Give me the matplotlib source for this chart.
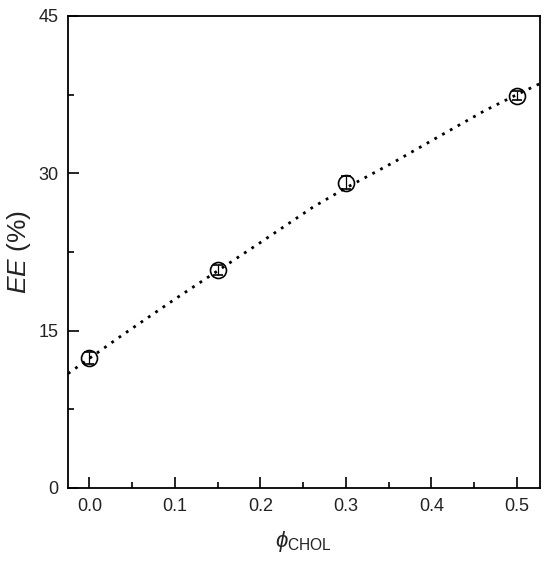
import matplotlib
matplotlib.use("Agg")
import matplotlib.pyplot as plt
from matplotlib.ticker import MultipleLocator, FormatStrFormatter

plt.rcParams['font.family'] = ['Liberation Sans', 'DejaVu Sans']
plt.rcParams['mathtext.fontset'] = 'custom'
plt.rcParams['mathtext.rm'] = 'Liberation Sans'
plt.rcParams['mathtext.it'] = 'Liberation Sans:italic'

# measured data
phi_chol = [0.0, 0.15, 0.3, 0.5]
ee = [12.4, 20.8, 29.1, 37.4]
ee_err = [0.6, 0.5, 0.6, 0.4]

# fitted curve, values
fit_x = [-0.025, 0.0, 0.039, 0.1, 0.15, 0.2, 0.262, 0.3, 0.357, 0.4, 0.463, 0.5, 0.527]
fit_y = [10.9, 12.35, 14.6, 18.0, 20.7, 23.4, 26.8, 28.6, 31.1, 33.1, 36.0, 37.5, 38.55]

fig = plt.figure(figsize=(5.5, 5.69), dpi=100)
ax = fig.add_axes([0.1236, 0.1424, 0.9818 - 0.1236, 0.972 - 0.1424])

ax.plot(fit_x, fit_y, linestyle=(0, (1, 2.2)), color='black', lw=2.0, zorder=2)
ax.errorbar(phi_chol, ee, yerr=ee_err, fmt='o', ms=11.5, mfc='none', mec='black', mew=1.2,
            ecolor='black', elinewidth=0.9, capsize=3.5, capthick=0.9, zorder=3)

ax.set_xlim(-0.025, 0.527)
ax.set_ylim(0, 45)
ax.xaxis.set_major_locator(MultipleLocator(0.1))
ax.xaxis.set_minor_locator(MultipleLocator(0.05))
ax.yaxis.set_major_locator(MultipleLocator(15))
ax.yaxis.set_minor_locator(MultipleLocator(7.5))
ax.tick_params(which='both', direction='in', top=False, right=False, width=1.2,
               labelsize=13, pad=7, labelcolor='#222222')
ax.tick_params(which='major', length=8)
ax.tick_params(which='minor', length=4)
ax.xaxis.set_major_formatter(FormatStrFormatter('%.1f'))
for s in ax.spines.values():
    s.set_linewidth(1.3)

ax.set_xlabel(r'$\mathit{\phi}_{\mathrm{CHOL}}$', fontsize=16, labelpad=10, color='#222222')
ax.set_ylabel(r'$\mathit{EE}$ (%)', fontsize=19, labelpad=4, color='#222222')

fig.savefig('out.png', dpi=100)
